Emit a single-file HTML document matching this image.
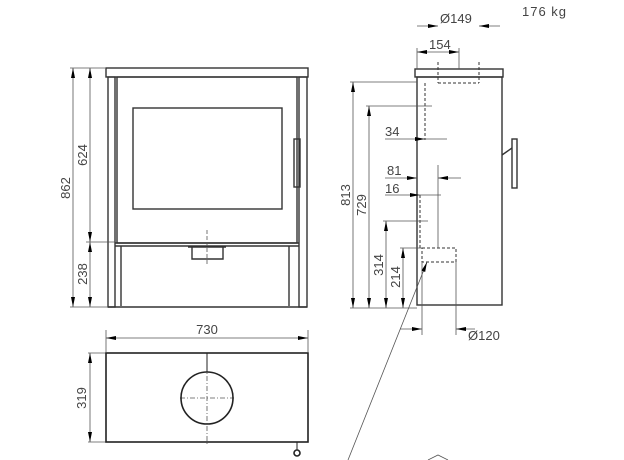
<!DOCTYPE html>
<html><head><style>html,body{margin:0;padding:0;background:#fff}svg{display:block}</style></head><body>
<svg width="624" height="460" viewBox="0 0 624 460" xmlns="http://www.w3.org/2000/svg" font-family="Liberation Sans, sans-serif" fill="none">
<defs>
<marker id="a" viewBox="0 0 10 4" refX="10" refY="2" markerWidth="10" markerHeight="4" markerUnits="userSpaceOnUse" orient="auto-start-reverse"><path d="M0,0L10,2L0,4z" fill="#000"/></marker>
</defs>
<g stroke="#333" stroke-width="1.4">
<!-- front -->
<rect x="106" y="68" width="202" height="9"/>
<rect x="108" y="77" width="7" height="230"/>
<rect x="299" y="77" width="8" height="230"/>
<rect x="117" y="77" width="180" height="166"/>
<rect x="133" y="108" width="149" height="101"/>
<rect x="294" y="139" width="6" height="48"/>
<line x1="115" y1="243" x2="299" y2="243"/>
<line x1="115" y1="246" x2="299" y2="246"/>
<line x1="121" y1="246" x2="121" y2="306"/>
<line x1="289" y1="246" x2="289" y2="306"/>
<line x1="108" y1="307" x2="307" y2="307"/>
<path d="M188,247h38M192,247v12h31v-12"/>
<!-- side -->
<rect x="415" y="69" width="88" height="8"/>
<rect x="417" y="77" width="85" height="228"/>
<rect x="512" y="139" width="5" height="49"/>
<line x1="502" y1="155" x2="512" y2="148"/>
</g>
<g stroke="#333" stroke-width="1" stroke-dasharray="3,2">
<path d="M438,62v21M479,62v21M438,83h41M425,83v57M420,195v55M422,248h34v14h-34z"/>
</g>
<g stroke="#555" stroke-width="0.8">
<!-- front dims -->
<line x1="70" y1="68" x2="105" y2="68"/><line x1="70" y1="307" x2="108" y2="307"/><line x1="86" y1="242" x2="115" y2="242"/>
<line x1="73" y1="68" x2="73" y2="307" marker-start="url(#a)" marker-end="url(#a)"/>
<line x1="90" y1="68" x2="90" y2="242" marker-start="url(#a)" marker-end="url(#a)"/>
<line x1="90" y1="242" x2="90" y2="307" marker-start="url(#a)" marker-end="url(#a)"/>
<line x1="207" y1="230" x2="207" y2="265" stroke-dasharray="4,2"/>
<!-- top view -->
<line x1="106" y1="330" x2="106" y2="352"/><line x1="308" y1="330" x2="308" y2="352"/>
<line x1="106" y1="338" x2="308" y2="338" marker-start="url(#a)" marker-end="url(#a)"/>
<line x1="88" y1="353" x2="106" y2="353"/><line x1="88" y1="442" x2="106" y2="442"/>
<line x1="90" y1="353" x2="90" y2="442" marker-start="url(#a)" marker-end="url(#a)"/>
<line x1="180" y1="398" x2="234" y2="398" stroke-dasharray="5,2,1,2"/>
<line x1="207" y1="356" x2="207" y2="445" stroke-dasharray="5,2,1,2"/>
<!-- side dims -->
<line x1="417" y1="26" x2="438" y2="26" marker-end="url(#a)"/><line x1="479" y1="26" x2="500" y2="26" marker-start="url(#a)"/>
<line x1="417" y1="52" x2="459" y2="52" marker-start="url(#a)" marker-end="url(#a)"/>
<line x1="417" y1="48" x2="417" y2="69"/><line x1="459" y1="48" x2="459" y2="69"/>
<line x1="350" y1="82" x2="417" y2="82"/><line x1="366" y1="106" x2="432" y2="106"/>
<line x1="383" y1="221" x2="428" y2="221"/><line x1="400" y1="248" x2="422" y2="248"/>
<line x1="350" y1="308" x2="417" y2="308"/>
<line x1="353" y1="82" x2="353" y2="308" marker-start="url(#a)" marker-end="url(#a)"/>
<line x1="369" y1="106" x2="369" y2="308" marker-start="url(#a)" marker-end="url(#a)"/>
<line x1="386" y1="221" x2="386" y2="308" marker-start="url(#a)" marker-end="url(#a)"/>
<line x1="403" y1="248" x2="403" y2="308" marker-start="url(#a)" marker-end="url(#a)"/>
<line x1="385" y1="139" x2="425" y2="139" marker-end="url(#a)"/><line x1="425" y1="139" x2="447" y2="139"/>
<line x1="385" y1="178" x2="417" y2="178" marker-end="url(#a)"/><line x1="438" y1="178" x2="461" y2="178" marker-start="url(#a)"/>
<line x1="385" y1="195" x2="420" y2="195" marker-end="url(#a)"/><line x1="420" y1="195" x2="441" y2="195"/>
<line x1="438" y1="165" x2="438" y2="248"/>
<line x1="422" y1="262" x2="422" y2="335"/><line x1="456" y1="262" x2="456" y2="335"/>
<line x1="400" y1="329" x2="422" y2="329" marker-end="url(#a)"/><line x1="456" y1="329" x2="475" y2="329" marker-start="url(#a)"/>
<line x1="348" y1="460" x2="427" y2="262" marker-end="url(#a)"/>
<path d="M428,460l10,-5l10,5"/>
</g>
<g stroke="#222" stroke-width="1.6">
<rect x="106" y="353" width="202" height="89"/>
<circle cx="207" cy="398" r="26"/>
<line x1="207" y1="353" x2="207" y2="372" stroke-width="1"/>
<circle cx="297" cy="453" r="3"/><line x1="297" y1="442" x2="297" y2="450" stroke-width="1"/>
</g>
<g fill="#444" font-size="13">
<text x="207" y="334" text-anchor="middle">730</text>
<text transform="translate(86,398) rotate(-90)" text-anchor="middle">319</text>
<text transform="translate(70,188) rotate(-90)" text-anchor="middle">862</text>
<text transform="translate(87,155) rotate(-90)" text-anchor="middle">624</text>
<text transform="translate(87,274) rotate(-90)" text-anchor="middle">238</text>
<text transform="translate(350,195) rotate(-90)" text-anchor="middle">813</text>
<text transform="translate(366,205) rotate(-90)" text-anchor="middle">729</text>
<text transform="translate(383,265) rotate(-90)" text-anchor="middle">314</text>
<text transform="translate(400,277) rotate(-90)" text-anchor="middle">214</text>
<text x="440" y="23">Ø149</text>
<text x="429" y="49">154</text>
<text x="385" y="136">34</text>
<text x="387" y="175">81</text>
<text x="385" y="193">16</text>
<text x="468" y="340">Ø120</text>
<text x="522" y="16" letter-spacing="1">176 kg</text>
</g>
</svg>
</body></html>
